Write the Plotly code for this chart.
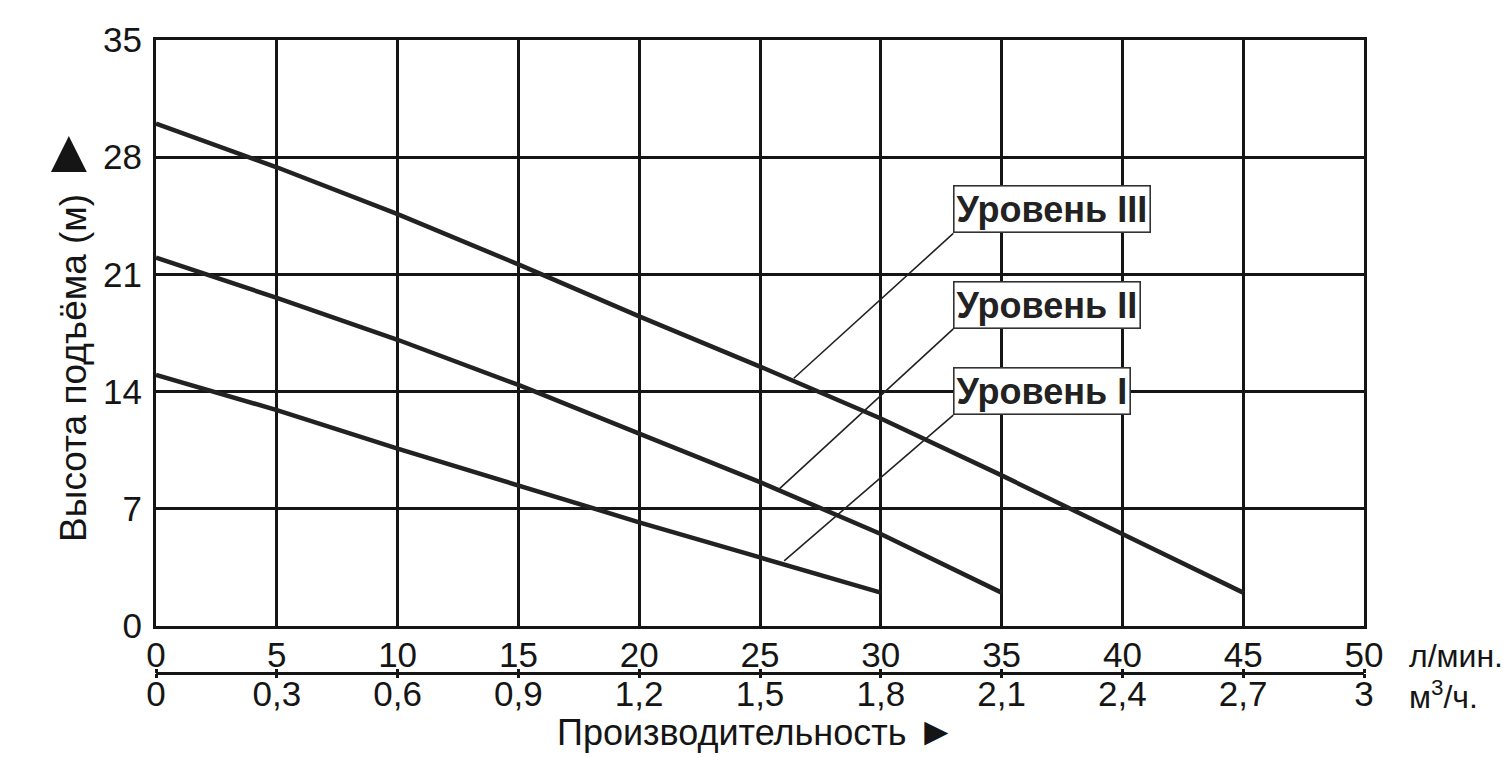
import plotly.graph_objects as go

# flow in l/min and head in m
flow_lpm = [0, 5, 10, 15, 20, 25, 30, 35, 40, 45]
head_level_1 = [15.0, 12.9, 10.6, 8.4, 6.2, 4.1, 2.0]
head_level_2 = [22.0, 19.6, 17.1, 14.4, 11.5, 8.6, 5.5, 2.0]
head_level_3 = [30.0, 27.4, 24.6, 21.6, 18.5, 15.5, 12.4, 9.0, 5.5, 2.0]

level_names = ["Уровень I", "Уровень II", "Уровень III"]

y_ticks = [0, 7, 14, 21, 28, 35]
lpm_ticks = [0, 5, 10, 15, 20, 25, 30, 35, 40, 45, 50]
m3h_ticks = [0, 0.3, 0.6, 0.9, 1.2, 1.5, 1.8, 2.1, 2.4, 2.7, 3]
m3h_labels = ["0", "0,3", "0,6", "0,9", "1,2", "1,5", "1,8", "2,1", "2,4", "2,7", "3"]

FONT = "Liberation Sans"
INK = "#151515"

fig = go.Figure()
for heads in (head_level_1, head_level_2, head_level_3):
    fig.add_trace(go.Scatter(x=flow_lpm[:len(heads)], y=heads, mode="lines",
                             line=dict(color="#222", width=4.5), showlegend=False,
                             hoverinfo="skip"))

# second and third x scales need a trace each to be drawn
fig.add_trace(go.Scatter(x=flow_lpm, y=head_level_3, xaxis="x2", mode="none",
                         showlegend=False, hoverinfo="skip"))
fig.add_trace(go.Scatter(x=[q * 0.06 for q in flow_lpm], y=head_level_3, xaxis="x3",
                         mode="none", showlegend=False, hoverinfo="skip"))

# label boxes with leader lines (tip on the curve, tail at box corner)
tips = [(26.0, 3.9), (25.8, 8.2), (26.4, 14.8)]
tails = [(33.0, 12.6), (33.0, 17.75), (33.0, 23.45)]
for name, (tx, ty), (ax, ay) in zip(level_names, tips, tails):
    fig.add_annotation(x=tx, y=ty, ax=ax, ay=ay, axref="x", ayref="y",
                       text="<b>" + name + "</b>", showarrow=True, arrowhead=0,
                       arrowwidth=1.6, arrowcolor="#222",
                       xanchor="left", yanchor="bottom",
                       bgcolor="white", bordercolor="#333", borderwidth=1.6, borderpad=2,
                       font=dict(family=FONT, size=36, color="#222"))

# page has an 8px body margin, so the figure is drawn 8px smaller
W, H = 1502, 749
plot_h = 670
y_dom0 = (700 - 625) / plot_h
scale_pos = (700 - 673) / plot_h

fig.update_layout(
    width=W, height=H,
    margin=dict(l=148, r=146, t=22, b=57),
    plot_bgcolor="white", paper_bgcolor="white",
    font=dict(family=FONT, size=35, color=INK),
    xaxis=dict(range=[0, 50], tickvals=lpm_ticks, showticklabels=False, ticks="",
               showgrid=True, gridcolor=INK, gridwidth=2.5, zeroline=False,
               showline=True, mirror=True, linecolor=INK, linewidth=3),
    xaxis2=dict(range=[0, 50], tickvals=lpm_ticks, overlaying="x", anchor="free",
                position=scale_pos, side="top", showgrid=False, zeroline=False,
                showline=True, linecolor=INK, linewidth=2.5,
                ticks="outside", ticklen=4, tickwidth=2.5, tickcolor=INK,
                ticklabelstandoff=-12, tickfont=dict(size=35)),
    xaxis3=dict(range=[0, 3], tickvals=m3h_ticks, ticktext=m3h_labels, overlaying="x",
                anchor="free", position=scale_pos, side="bottom", showgrid=False,
                zeroline=False, showline=False,
                ticks="outside", ticklen=4, tickwidth=2.5, tickcolor=INK,
                ticklabelstandoff=-14, tickfont=dict(size=35)),
    yaxis=dict(range=[0, 35], tickvals=y_ticks, domain=[y_dom0, 1],
               showgrid=True, gridcolor=INK, gridwidth=2.5, zeroline=False,
               showline=True, mirror=True, linecolor=INK, linewidth=3,
               ticks="", ticklabelstandoff=4, tickfont=dict(size=35),
               title=dict(text="Высота подъёма (м) <span style='font-size:60px'>►</span>",
                          font=dict(size=37), standoff=6)),
)

fig.add_annotation(xref="paper", yref="paper", x=0.4975, y=(700 - 731) / plot_h,
                   text="Производительность <span style='font-size:40px'>►</span>",
                   showarrow=False, font=dict(size=36), xanchor="center", yanchor="middle")
fig.add_annotation(xref="paper", yref="paper", x=1.0356, y=(700 - 655) / plot_h,
                   text="л/мин.", showarrow=False, font=dict(size=32),
                   xanchor="left", yanchor="middle")
fig.add_annotation(xref="paper", yref="paper", x=1.0356, y=(700 - 695) / plot_h,
                   text="м<sup>3</sup>/ч.", showarrow=False, font=dict(size=32),
                   xanchor="left", yanchor="middle")

fig.write_html("out.html")
